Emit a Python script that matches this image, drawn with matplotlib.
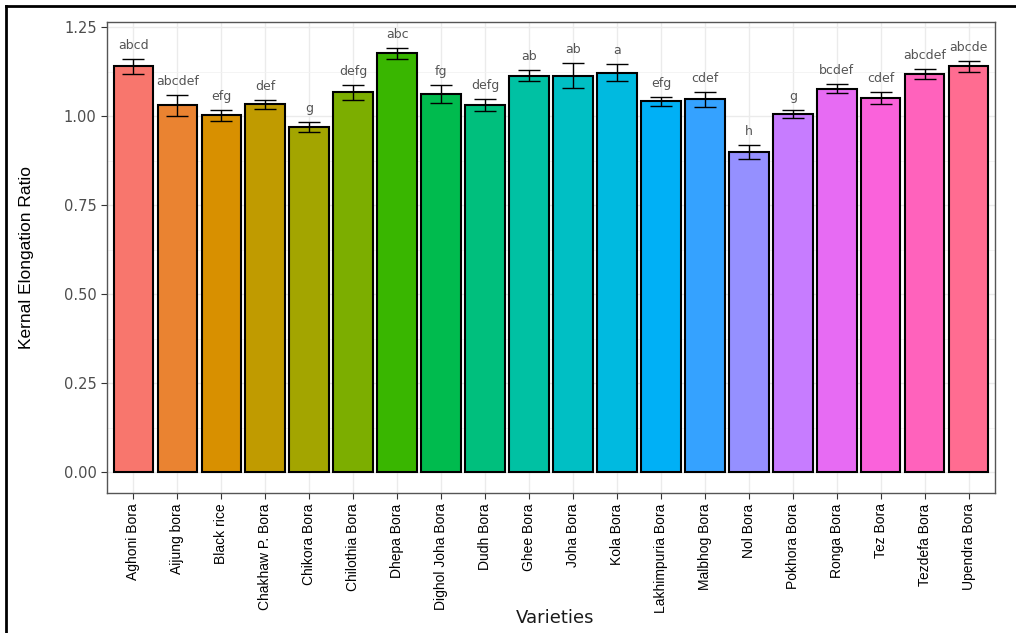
import matplotlib
matplotlib.use("Agg")
import matplotlib.pyplot as plt
from matplotlib.lines import Line2D
import numpy as np

varieties = ["Aghoni Bora", "Aijung bora", "Black rice", "Chakhaw P. Bora", "Chikora Bora",
             "Chilothia Bora", "Dhepa Bora", "Dighol Joha Bora", "Dudh Bora", "Ghee Bora",
             "Joha Bora", "Kola Bora", "Lakhimpuria Bora", "Malbhog Bora", "Nol Bora",
             "Pokhora Bora", "Ronga Bora", "Tez Bora", "Tezdefa Bora", "Upendra Bora"]
ratio = [1.140, 1.031, 1.003, 1.034, 0.969, 1.067, 1.177, 1.062, 1.031, 1.114,
         1.114, 1.122, 1.042, 1.048, 0.900, 1.006, 1.078, 1.051, 1.120, 1.140]
err = [0.022, 0.030, 0.016, 0.013, 0.014, 0.020, 0.016, 0.025, 0.017, 0.016,
       0.035, 0.024, 0.013, 0.021, 0.020, 0.012, 0.013, 0.017, 0.014, 0.015]
letters = ["abcd", "abcdef", "efg", "def", "g", "defg", "abc", "fg", "defg", "ab",
           "ab", "a", "efg", "cdef", "h", "g", "bcdef", "cdef", "abcdef", "abcde"]
colors = ["#F8766D", "#EA8331", "#D89000", "#C09B00", "#A3A500", "#7CAE00", "#39B600",
          "#00BB4E", "#00BF7D", "#00C1A3", "#00BFC4", "#00BAE0", "#00B0F6", "#35A2FF",
          "#9590FF", "#C77CFF", "#E76BF3", "#FA62DB", "#FF62BC", "#FF6C91"]

narrow = ["Liberation Sans", "DejaVu Sans"]

fig = plt.figure(figsize=(10.16, 6.33), dpi=100)
ax = fig.add_axes([107 / 1016, 1 - 493 / 633, (995 - 107) / 1016, (493 - 22) / 633])

x = np.arange(len(varieties))
ax.bar(x, ratio, width=0.9, color=colors, edgecolor="black", linewidth=1.5, zorder=2)
ax.errorbar(x, ratio, yerr=err, fmt="none", ecolor="black", elinewidth=1.0,
            capsize=8, capthick=1.0, zorder=3)
for xi, v, e, lab in zip(x, ratio, err, letters):
    ax.annotate(lab, (xi, v + e), xytext=(0, 5), textcoords="offset points",
                ha="center", va="bottom", fontsize=9, color="#555555")

ax.set_xlim(-0.6, 19.6)
ax.set_ylim(-0.059, 1.265)
ax.set_yticks([0, 0.25, 0.5, 0.75, 1.0, 1.25])
ax.set_yticklabels(["0.00", "0.25", "0.50", "0.75", "1.00", "1.25"])
ax.set_yticks(np.arange(0.125, 1.25, 0.25), minor=True)
ax.set_xticks(x)
ax.set_xticklabels(varieties, rotation=90, fontsize=10, family=narrow, color="black")
ax.tick_params(axis="y", labelsize=10.5, labelcolor="#4D4D4D", color="#333333", length=4)
ax.tick_params(axis="x", color="#333333", length=4)
ax.tick_params(axis="y", which="minor", length=0)
ax.grid(True, which="major", color="#EBEBEB", linewidth=1.0, zorder=0)
ax.grid(True, which="minor", axis="y", color="#F2F2F2", linewidth=0.6, zorder=0)
ax.set_axisbelow(True)
for s in ax.spines.values():
    s.set_color("#555555")
    s.set_linewidth(1.0)

ax.set_ylabel("Kernal Elongation Ratio", fontsize=12.5, family=narrow)
ax.yaxis.set_label_coords(-(107 - 34) / (995 - 107), 0.5)
ax.set_xlabel("Varieties", fontsize=13, color="#1A1A1A")
ax.xaxis.set_label_coords((555 - 107) / (995 - 107), -(609 - 493) / (493 - 22))

# outer frame of the picture (left and top edges)
fig.add_artist(Line2D([6 / 1016, 6 / 1016], [0, 1 - 6 / 633], transform=fig.transFigure,
                      color="black", linewidth=2))
fig.add_artist(Line2D([6 / 1016, 1], [1 - 6 / 633, 1 - 6 / 633], transform=fig.transFigure,
                      color="black", linewidth=2))

fig.savefig("out.png", dpi=100)
